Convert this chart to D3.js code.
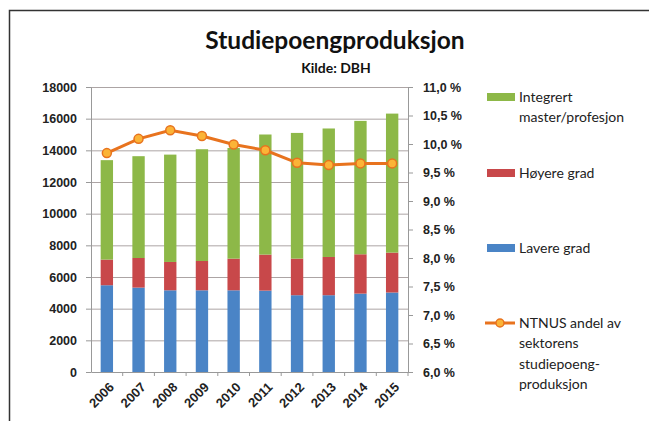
<!DOCTYPE html>
<html>
<head>
<meta charset="utf-8">
<script src="https://cdn.jsdelivr.net/npm/d3@7"></script>
<style>
    body { margin: 0; background: #fff; }
    svg { font-family: Lato, "Open Sans", sans-serif; }
    .tick text { font-weight: bold; fill: #222; }
    .legend text { font-size: 14px; fill: #222; }
</style>
</head>
<body>
<svg width="649" height="421"></svg>
<script>
// values
var years = ["2006", "2007", "2008", "2009", "2010", "2011", "2012", "2013", "2014", "2015"];
var lavere = [5480, 5330, 5160, 5160, 5160, 5140, 4850, 4850, 4950, 5020];
var hoyere = [1620, 1870, 1790, 1850, 2000, 2275, 2310, 2415, 2485, 2520];
var integrert = [6280, 6430, 6780, 7060, 6990, 7585, 7940, 8115, 8425, 8780];
var andel = [9.84, 10.09, 10.24, 10.14, 9.99, 9.89, 9.67, 9.63, 9.66, 9.66];
var leftTicks = [0, 2000, 4000, 6000, 8000, 10000, 12000, 14000, 16000, 18000];
var rightTicks = [6.0, 6.5, 7.0, 7.5, 8.0, 8.5, 9.0, 9.5, 10.0, 10.5, 11.0];

var seriesKeys = ["lavere", "hoyere", "integrert"];
var seriesNames = {
    lavere: ["Lavere grad"],
    hoyere: ["Høyere grad"],
    integrert: ["Integrert", "master/profesjon"]
};
var colors = {lavere: "#4a84c6", hoyere: "#c8484a", integrert: "#8db848"};

const svg = d3.select("svg"),
    margin = {top: 87, left: 91, right: 241, bottom: 49},
    width = 649 - margin.left - margin.right,
    height = 421 - margin.top - margin.bottom;

// frame
svg.append("path")
    .attr("d", "M9.5,421 V10.5 H649")
    .attr("fill", "none")
    .attr("stroke", "#333")
    .attr("stroke-width", 1.5);

var rows = years.map(function(y, i) {
    return {year: y, lavere: lavere[i], hoyere: hoyere[i], integrert: integrert[i], andel: andel[i]};
});

var x = d3.scaleBand().domain(years).range([0, width]).paddingInner(0.61).paddingOuter(0.305),
    y = d3.scaleLinear().domain([0, 18000]).range([height, 0]),
    y2 = d3.scaleLinear().domain([6, 11]).range([height, 0]);

var pct = d3.formatLocale({decimal: ",", thousands: " ", grouping: [3], currency: ["", ""]}).format(".1f");

const g = svg.append("g")
    .attr("transform", "translate(" + margin.left + "," + margin.top + ")");

// grid
g.append("g")
    .selectAll("line")
    .data(leftTicks.slice(1))
    .enter().append("line")
    .attr("x1", 0).attr("x2", width)
    .attr("y1", function(d) { return y(d) + 0.5; })
    .attr("y2", function(d) { return y(d) + 0.5; })
    .attr("stroke", "#aca4a4");

var stack = d3.stack().keys(seriesKeys)(rows);

g.selectAll(".series")
    .data(stack)
    .enter().append("g")
    .attr("class", "series")
    .attr("fill", function(d) { return colors[d.key]; })
    .selectAll("rect")
    .data(function(d) { return d; })
    .enter().append("rect")
    .attr("x", function(d) { return x(d.data.year); })
    .attr("width", x.bandwidth())
    .attr("y", function(d) { return y(d[1]); })
    .attr("height", function(d) { return y(d[0]) - y(d[1]); });

// axes
var axisLeft = g.append("g")
    .call(d3.axisLeft(y).tickValues(leftTicks).tickFormat(d3.format("d"))
        .tickSize(5).tickSizeOuter(0).tickPadding(9));
axisLeft.selectAll("text").style("font-size", "12.5px");

var axisRight = g.append("g")
    .attr("transform", "translate(" + width + ",0)")
    .call(d3.axisRight(y2).tickValues(rightTicks).tickSize(5).tickSizeOuter(0).tickPadding(10)
        .tickFormat(function(d) { return pct(d) + " %"; }));
axisRight.selectAll("text").style("font-size", "12.5px");

var axisBottom = g.append("g")
    .attr("transform", "translate(0," + height + ")")
    .call(d3.axisBottom(x).tickSize(0).tickPadding(0));
axisBottom.selectAll("text")
    .style("font-size", "13px")
    .attr("text-anchor", "end")
    .attr("dy", 0)
    .attr("transform", "translate(8,16) rotate(-45)");

// ticks between categories
axisBottom.selectAll(".sep")
    .data(years)
    .enter().append("line")
    .attr("class", "sep")
    .attr("x1", function(d) { return x(d) + x.bandwidth() + x.step() * x.paddingInner() / 2; })
    .attr("x2", function(d) { return x(d) + x.bandwidth() + x.step() * x.paddingInner() / 2; })
    .attr("y1", 0).attr("y2", 4)
    .attr("stroke", "#999");

g.selectAll(".domain, .tick line").attr("stroke", "#999");

// share line
var line = d3.line()
    .x(function(d) { return x(d.year) + x.bandwidth() / 2; })
    .y(function(d) { return y2(d.andel); });

g.append("path")
    .datum(rows)
    .attr("fill", "none")
    .attr("stroke", "#e8731e")
    .attr("stroke-width", 3)
    .attr("d", line);

g.selectAll(".dot")
    .data(rows)
    .enter().append("circle")
    .attr("class", "dot")
    .attr("cx", function(d) { return x(d.year) + x.bandwidth() / 2; })
    .attr("cy", function(d) { return y2(d.andel); })
    .attr("r", 4.5)
    .attr("fill", "#fbb437")
    .attr("stroke", "#e8731e")
    .attr("stroke-width", 1.5);

// titles
svg.append("text")
    .attr("x", 335).attr("y", 49)
    .attr("text-anchor", "middle")
    .style("font-size", "24.5px").style("font-weight", "bold").attr("fill", "#111")
    .text("Studiepoengproduksjon");

svg.append("text")
    .attr("x", 336).attr("y", 73)
    .attr("text-anchor", "middle")
    .style("font-size", "14px").style("font-weight", "bold").attr("fill", "#111")
    .text("Kilde: DBH");

// legend
var legend = svg.append("g").attr("class", "legend");
var legendRows = [
    {key: "integrert", y: 97},
    {key: "hoyere", y: 173},
    {key: "lavere", y: 248}
];

legend.selectAll("rect")
    .data(legendRows)
    .enter().append("rect")
    .attr("x", 487).attr("y", function(d) { return d.y - 4; })
    .attr("width", 28).attr("height", 8)
    .attr("fill", function(d) { return colors[d.key]; });

legend.selectAll(".ltext")
    .data(legendRows)
    .enter().append("text")
    .attr("class", "ltext")
    .attr("x", 519).attr("y", function(d) { return d.y + 5; })
    .selectAll("tspan")
    .data(function(d) { return seriesNames[d.key]; })
    .enter().append("tspan")
    .attr("x", 519)
    .attr("dy", function(d, i) { return i === 0 ? 0 : 20; })
    .text(function(d) { return d; });

legend.append("line")
    .attr("x1", 485).attr("x2", 515).attr("y1", 323).attr("y2", 323)
    .attr("stroke", "#e8731e").attr("stroke-width", 3);
legend.append("circle")
    .attr("cx", 500).attr("cy", 323).attr("r", 4)
    .attr("fill", "#fbb437").attr("stroke", "#e8731e").attr("stroke-width", 1.5);

legend.append("text")
    .attr("x", 519).attr("y", 328)
    .selectAll("tspan")
    .data(["NTNUS andel av", "sektorens", "studiepoeng-", "produksjon"])
    .enter().append("tspan")
    .attr("x", 519)
    .attr("dy", function(d, i) { return i === 0 ? 0 : 20.3; })
    .text(function(d) { return d; });
</script>
</body>
</html>
